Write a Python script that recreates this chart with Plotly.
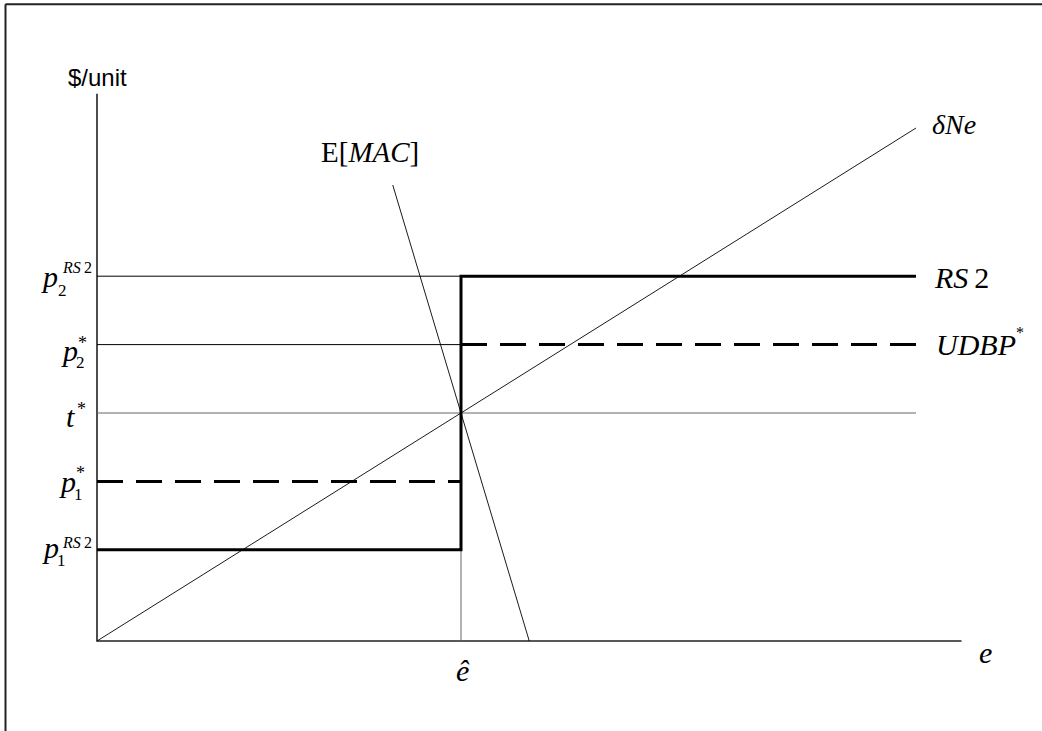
import plotly.graph_objects as go

# price levels ($/unit) and emission levels (e)
e_hat = 4.0
t_star = 4.0
p1_rs2, p2_rs2 = 1.6, 6.4
p1_star, p2_star = 2.8, 5.2
e_end = 9.0
e_axis_end = 9.5
p_axis_top = 9.6

# marginal damage line (delta N e)
dne_e = [0.0, 9.0]
dne_p = [0.0, 9.0]

# expected marginal abatement cost
mac_e = [3.25, 4.75]
mac_p = [8.0, 0.0]

SERIF = "Liberation Serif"
SANS = "Liberation Sans"

fig = go.Figure()


def seg(x, y, width=1, color="black", dash="solid"):
    fig.add_scatter(x=x, y=y, mode="lines", hoverinfo="skip",
                    line=dict(color=color, width=width, dash=dash))


# axes
seg([0, 0, e_axis_end], [p_axis_top, 0, 0], width=1.6, color="#222")

# guide lines
seg([0, e_hat], [p2_rs2, p2_rs2])
seg([0, e_hat], [p2_star, p2_star])
seg([0, e_end], [t_star, t_star], color="#666")
seg([e_hat, e_hat], [0, t_star], color="#666")

# curves
seg(dne_e, dne_p, width=0.9)
seg(mac_e, mac_p, width=0.9)

# RS2 step schedule
seg([0, e_hat, e_hat, e_end], [p1_rs2, p1_rs2, p2_rs2, p2_rs2], width=3)

# UDBP* schedule (dashed)
seg([0, e_hat], [p1_star, p1_star], width=3, dash="26px,13px")
seg([e_hat, e_end], [p2_star, p2_star], width=3, dash="26px,13px")


def label(text, x, y, dx=0, dy=0, size=30, font=SERIF, xanchor="center"):
    fig.add_annotation(x=x, y=y, text=text, showarrow=False,
                       xanchor=xanchor, yanchor="middle",
                       xshift=dx, yshift=dy,
                       font=dict(family=font, size=size, color="black"))


label("$/unit", 0, p_axis_top, dy=16, size=24, font=SANS)
label("E[<i>MAC</i>]", mac_e[0], mac_p[0], dx=-23, dy=33, size=29)
label("<i>δNe</i>", dne_e[1], dne_p[1], dx=14, dy=4, size=28, xanchor="left")
label("<i>RS</i>\u20092", e_end, p2_rs2, dx=16, dy=-1, size=30, xanchor="left")
label("<i>UDBP</i>", e_end, p2_star, dx=18, dy=0, size=30, xanchor="left")
label("*", e_end, p2_star, dx=104, dy=12, size=16)
label("<i>e</i>", e_axis_end, 0, dx=24, dy=-11, size=30)
label("<i>ê</i>", e_hat, 0, dx=2, dy=-29, size=30)

# y-axis tick labels
label("<i>p</i>", 0, p2_rs2, dx=-48, dy=0)
label("2", 0, p2_rs2, dx=-35, dy=-14, size=17)
label("<i>RS</i>\u20092", 0, p2_rs2, dx=-20, dy=9, size=16)

label("<i>p</i>", 0, p2_star, dx=-28, dy=-6)
label("2", 0, p2_star, dx=-17, dy=-18, size=17)
label("*", 0, p2_star, dx=-15, dy=2, size=18)

label("<i>t</i>", 0, t_star, dx=-27, dy=-3)
label("*", 0, t_star, dx=-16, dy=4, size=18)

label("<i>p</i>", 0, p1_star, dx=-30, dy=0)
label("1", 0, p1_star, dx=-19, dy=-13, size=17)
label("*", 0, p1_star, dx=-17, dy=8, size=18)

label("<i>p</i>", 0, p1_rs2, dx=-47, dy=2)
label("1", 0, p1_rs2, dx=-36, dy=-11, size=17)
label("<i>RS</i>\u20092", 0, p1_rs2, dx=-20, dy=7, size=16)

# frame (left and top edges only visible)
fig.add_shape(type="line", xref="paper", yref="paper",
              x0=5.5 / 1042, x1=5.5 / 1042, y0=-0.01, y1=1 - 4.3 / 731,
              line=dict(color="#222", width=2))
fig.add_shape(type="line", xref="paper", yref="paper",
              x0=5.5 / 1042, x1=1.01, y0=1 - 4.3 / 731, y1=1 - 4.3 / 731,
              line=dict(color="#222", width=2))

fig.update_layout(
    width=1042,
    height=731,
    margin=dict(l=0, r=0, t=0, b=0),
    showlegend=False,
    plot_bgcolor="white",
    paper_bgcolor="white",
)

# origin sits at pixel (97, 641): 91 px per e-unit, 57 px per $-unit
fig.update_xaxes(visible=False, range=[-97 / 91, (1042 - 97) / 91])
fig.update_yaxes(visible=False, range=[-(731 - 641) / 57, 641 / 57])

# drop the default page margin so the figure fills the window
fig.write_html(
    "out.html",
    config={"displayModeBar": False},
    post_script="document.body.style.margin='0';document.body.style.overflow='hidden';",
)
